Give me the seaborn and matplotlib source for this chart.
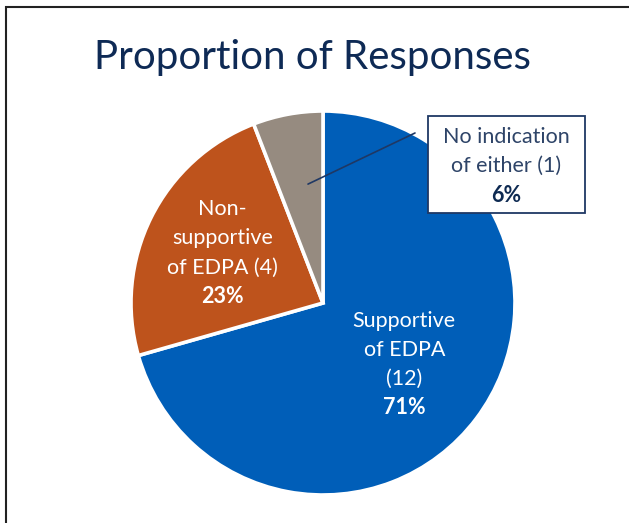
import numpy as np
import matplotlib
matplotlib.use("Agg")
import matplotlib.pyplot as plt
from matplotlib.patches import Rectangle
import seaborn as sns

# 数据
categories = ["Supportive\nof EDPA\n(12)", "Non-\nsupportive\nof EDPA (4)", "No indication\nof either (1)"]
counts = [12, 4, 1]
pct_labels = ["71%", "23%", "6%"]
colors = ["#005EB8", "#BE531C", "#968B80"]
title = "Proportion of Responses"

sns.set_theme(style="white")
plt.rcParams['font.family'] = ['Lato', 'DejaVu Sans']

W, H = 629, 523
CX, CY, R = 323, 303, 192  # 饼图中心和半径 (像素)

fig = plt.figure(figsize=(W / 100, H / 100), dpi=100)
ax = fig.add_axes([0, 0, 1, 1])

wedges, _ = ax.pie(counts, colors=colors, startangle=90, counterclock=False,
                   radius=1.0, wedgeprops=dict(edgecolor="white", linewidth=2.6))
ax.set_xlim(-CX / R, (W - CX) / R)
ax.set_ylim(-(H - CY) / R, CY / R)
ax.set_aspect('auto')
ax.axis('off')


def mid(w):
    return np.deg2rad((w.theta1 + w.theta2) / 2)


FS = 15.5
lh = 29 / R

# 扇区内标签
for i, dist in [(0, 0.53), (1, 0.585)]:
    a = mid(wedges[i])
    x, y = dist * np.cos(a), dist * np.sin(a)
    lines = categories[i].split("\n")
    n = len(lines) + 1
    y0 = y + (n - 1) / 2 * lh
    for k, line in enumerate(lines):
        ax.text(x, y0 - k * lh, line, color="white", fontsize=FS,
                ha="center", va="center")
    ax.text(x, y0 - len(lines) * lh, pct_labels[i], color="white",
            fontsize=FS, fontweight="bold", ha="center", va="center")

# 小扇区的标注框
a = mid(wedges[2])
px0 = (0.63 * np.cos(a), 0.63 * np.sin(a))
bx0, by0, bx1, by1 = 428, 116, 585, 213
box = Rectangle(((bx0 - CX) / R, (CY - by1) / R), (bx1 - bx0) / R, (by1 - by0) / R,
                facecolor="white", edgecolor="#1F3864", linewidth=1.3, zorder=5)
ax.add_patch(box)
ax.plot([(308 - CX) / R, (415 - CX) / R], [px0[1], (CY - 133) / R],
        color="#1F3864", linewidth=1.2, zorder=4)
bxc = (bx0 + bx1) / 2
for k, line in enumerate(categories[2].split("\n")):
    ax.text((bxc - CX) / R, (CY - 137 - 29 * k) / R, line, color="#2E4468",
            fontsize=FS, ha="center", va="center", zorder=6)
ax.text((bxc - CX) / R, (CY - 195) / R, pct_labels[2], color="#0E2A52",
        fontsize=FS, fontweight="bold", ha="center", va="center", zorder=6)

# 标题
fig.text(313 / W, 1 - 57 / H, title, color="#0E2A55", fontsize=29,
         ha="center", va="center")

# 外框
fig.add_artist(Rectangle((6 / W, -0.1), 1.2, 1 - 7 / H + 0.1,
                         transform=fig.transFigure, fill=False,
                         edgecolor="#222222", linewidth=1.5))

fig.savefig("out.png", dpi=100)
